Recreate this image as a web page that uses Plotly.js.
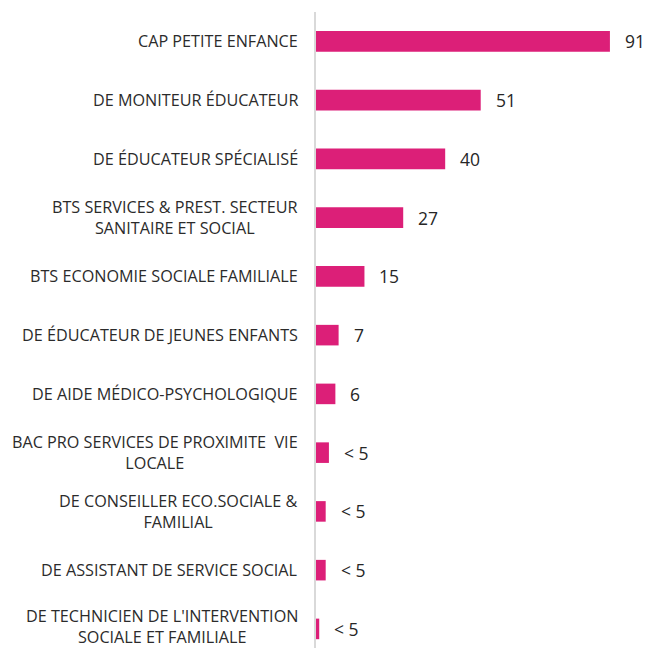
<!DOCTYPE html>
<html>
<head>
<meta charset="utf-8">
<script src="https://cdn.plot.ly/plotly-3.0.1.min.js"></script>
<style>html,body{margin:0;padding:0;background:#fff;}#chart{width:649px;height:648px;}</style>
</head>
<body>
<div id="chart"></div>
<script>
const categories = [
  "CAP PETITE ENFANCE",
  "DE MONITEUR ÉDUCATEUR",
  "DE ÉDUCATEUR SPÉCIALISÉ",
  "BTS SERVICES & PREST. SECTEUR<br>SANITAIRE ET SOCIAL",
  "BTS ECONOMIE SOCIALE FAMILIALE",
  "DE ÉDUCATEUR DE JEUNES ENFANTS",
  "DE AIDE MÉDICO-PSYCHOLOGIQUE",
  "BAC PRO SERVICES DE PROXIMITE  VIE<br>LOCALE",
  "DE CONSEILLER ECO.SOCIALE &<br>FAMILIAL",
  "DE ASSISTANT DE SERVICE SOCIAL",
  "DE TECHNICIEN DE L'INTERVENTION<br>SOCIALE ET FAMILIALE"
];
const values = [91, 51, 40, 27, 15, 7, 6, 4, 3, 3, 1];
const valueLabels = ["91", "51", "40", "27", "15", "7", "6", "< 5", "< 5", "< 5", "< 5"];

const FONT = "Open Sans, sans-serif";
const annotations = [];
categories.forEach((c, i) => {
  annotations.push({
    xref: "paper", yref: "y", x: 0, y: c, text: c.replace("  ", "&nbsp; "),
    xanchor: "right", yanchor: "middle", align: "center", xshift: -16,
    yshift: i === categories.length - 1 ? 2 : 0,
    showarrow: false, font: {family: FONT, size: 16.2, color: "#2b2b2b"}
  });
  annotations.push({
    xref: "x", yref: "y", x: values[i], y: c, text: valueLabels[i],
    xanchor: "left", yanchor: "middle", xshift: 13,
    showarrow: false, font: {family: FONT, size: 17.5, color: "#262626"}
  });
});

const data = [{
  type: "bar", orientation: "h",
  x: values, y: categories,
  marker: {color: "#DC1F78"},
  hoverinfo: "none"
}];

const layout = {
  width: 649, height: 648,
  margin: {l: 316, r: 0, t: 12, b: 0},
  paper_bgcolor: "#fff", plot_bgcolor: "#fff",
  showlegend: false,
  bargap: 0.65,
  xaxis: {range: [0, 103.1], visible: false, showgrid: false, zeroline: false, fixedrange: true},
  yaxis: {
    type: "category", range: [10.325, -0.5], autorange: false,
    showticklabels: false, ticks: "", showgrid: false, zeroline: false,
    showline: true, linecolor: "#D9D9D9", linewidth: 2, fixedrange: true
  },
  annotations: annotations
};

Plotly.newPlot("chart", data, layout, {displayModeBar: false, staticPlot: true});
</script>
</body>
</html>
